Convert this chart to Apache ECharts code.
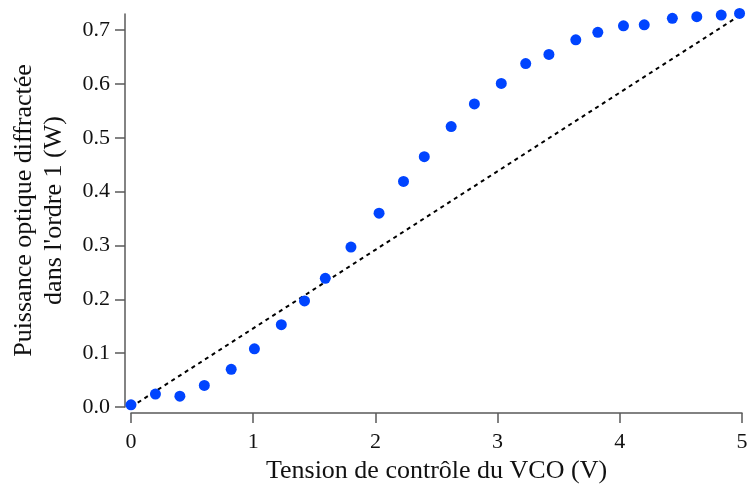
<!DOCTYPE html>
<html><head><meta charset="utf-8">
<script src="https://cdn.jsdelivr.net/npm/echarts@6/dist/echarts.min.js"></script>
<style>html,body{margin:0;padding:0;background:#fff}#c{width:747px;height:485px}</style>
</head><body><div id="c"></div>
<script>
const voltage = [0, 0.2, 0.4, 0.6, 0.82, 1.01, 1.23, 1.42, 1.59, 1.8, 2.03, 2.23, 2.4, 2.62, 2.81, 3.03, 3.23, 3.42, 3.64, 3.82, 4.03, 4.2, 4.43, 4.63, 4.83, 4.98];
const power = [0.004, 0.024, 0.020, 0.040, 0.070, 0.108, 0.153, 0.197, 0.239, 0.297, 0.360, 0.419, 0.465, 0.521, 0.563, 0.601, 0.638, 0.655, 0.682, 0.696, 0.708, 0.710, 0.722, 0.725, 0.728, 0.731];
const refLineX = [0, 5];
const refLineY = [0, 0.73];
const xTitle = 'Tension de contrôle du VCO (V)';
const yTitle = 'Puissance optique diffractée\ndans l\'ordre 1 (W)';

const font = 'Liberation Serif';
const axisColor = '#5a5a5a';
const chart = echarts.init(document.getElementById('c'));
chart.setOption({
  animation: false,
  backgroundColor: '#fff',
  grid: {left: 131, right: 5, top: 14, bottom: 78, containLabel: false, outerBoundsMode: 'none'},
  xAxis: {
    type: 'value', min: 0, max: 5, interval: 1, offset: 6,
    axisLine: {show: true, onZero: false, lineStyle: {color: axisColor, width: 1.5}},
    axisTick: {show: true, inside: false, length: 10, lineStyle: {color: axisColor, width: 1.5}},
    splitLine: {show: false},
    axisLabel: {fontFamily: font, fontSize: 22, color: '#111', margin: 18},
    name: xTitle, nameLocation: 'middle', nameGap: 36,
    nameTextStyle: {fontFamily: font, fontSize: 26, color: '#111'}
  },
  yAxis: {
    type: 'value', min: 0, max: 0.73, interval: 0.1, offset: 6,
    axisLine: {show: true, onZero: false, lineStyle: {color: axisColor, width: 1.5}},
    axisTick: {show: true, inside: false, length: 10, lineStyle: {color: axisColor, width: 1.5}},
    splitLine: {show: false},
    axisLabel: {fontFamily: font, fontSize: 22, color: '#111', margin: 15,
      formatter: v => v.toFixed(1), showMaxLabel: false},
    name: yTitle, nameLocation: 'middle', nameGap: 56, nameRotate: 90,
    nameTextStyle: {fontFamily: font, fontSize: 26, color: '#111', lineHeight: 30}
  },
  series: [
    {
      type: 'line', data: refLineX.map((x, i) => [x, refLineY[i]]),
      showSymbol: false, symbol: 'none', clip: false,
      lineStyle: {color: '#000', width: 2, type: [4, 4]}, z: 1
    },
    {
      type: 'scatter', data: voltage.map((x, i) => [x, power[i]]),
      symbol: 'circle', symbolSize: 11, clip: false,
      itemStyle: {color: '#0044ff', opacity: 1}, z: 2
    }
  ]
});
</script></body></html>
